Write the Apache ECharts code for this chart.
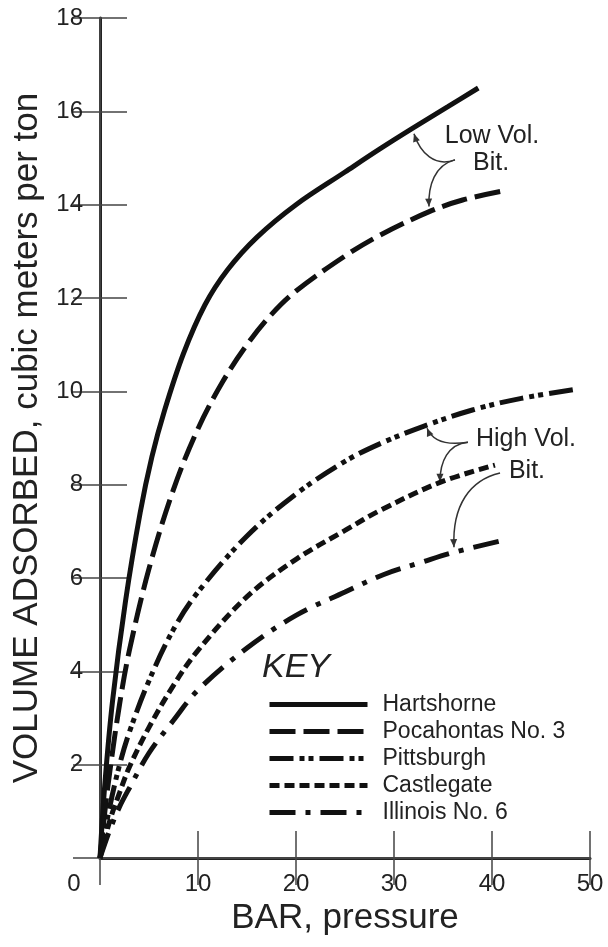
<!DOCTYPE html>
<html><head><meta charset="utf-8">
<script src="https://cdn.jsdelivr.net/npm/echarts@6/dist/echarts.min.js"></script>
<style>html,body{margin:0;padding:0;background:#fff}#c{width:608px;height:947px}</style>
</head><body><div id="c"></div>
<script>
// ---- data (pressure in bar, volume in m3/ton) ----
const seriesNames = ['Hartshorne','Pocahontas No. 3','Pittsburgh','Castlegate','Illinois No. 6'];
const hartshorne = [[0,0],[0.5,1.6],[1.3,3.4],[2.6,5.5],[4.1,7.4],[5.3,8.6],[6.6,9.6],[8.5,10.8],[10.7,11.85],[13,12.6],[16,13.3],[20,14.0],[25,14.7],[28.6,15.2],[32,15.65],[35.5,16.1],[38.6,16.5]];
const pocahontas = [[0,0],[0.5,1.0],[1,1.85],[2,3.3],[3,4.45],[5,6.2],[7.5,7.9],[10,9.2],[12.5,10.2],[15,11.0],[17.5,11.65],[20,12.15],[25,12.9],[28.6,13.35],[33.6,13.85],[37,14.1],[41.3,14.3]];
const pittsburgh = [[0,0],[1,1.1],[2,2.0],[3,2.7],[5,3.8],[7.5,4.9],[10,5.7],[15,6.9],[20,7.8],[25,8.5],[28.6,8.88],[33,9.25],[38,9.6],[43,9.85],[48.8,10.05]];
const castlegate = [[0,0],[1,0.8],[2,1.4],[3,1.95],[5,2.8],[7.5,3.7],[10,4.45],[15,5.6],[20,6.4],[25,7.02],[28.6,7.45],[34.7,8.05],[40.3,8.42]];
const illinois = [[0,0],[1,0.6],[2,1.1],[3,1.5],[5,2.25],[7.5,2.95],[10,3.6],[15,4.5],[20,5.2],[25,5.7],[28.9,6.07],[33,6.35],[36.1,6.55],[41.2,6.81]];
const xTicks = [0,10,20,30,40,50];
const yTicks = [2,4,6,8,10,12,14,16,18];
const xName = 'BAR, pressure';
const yName = 'VOLUME ADSORBED, cubic meters per ton';
// annotation anchors in data coordinates
const annoTexts = [
  {t:'Low Vol.', p:[40.0,15.47]}, {t:'Bit.', p:[39.9,14.89]},
  {t:'High Vol.', p:[43.47,8.98]}, {t:'Bit.', p:[43.57,8.29]}
];
const annoArrows = [
  [[36.22,14.96],[34.18,14.8],[32.7,15.1],[32.04,15.52]],
  [[36.22,14.96],[34.18,14.85],[33.47,14.42],[33.57,13.96]],
  [[37.55,8.91],[35.2,8.83],[33.88,8.96],[33.37,9.21]],
  [[37.55,8.91],[35.51,8.87],[34.69,8.49],[34.69,8.06]],
  [[40.82,8.25],[37.76,8.10],[35.92,7.56],[36.12,6.66]]
];

const FONT = 'Liberation Sans, Arial, sans-serif';
const INK = '#111';
const dashes = ['solid',[26,8],[24,6,5,4,5,6],[10,5],[26,10,5,10]];
const datasets = [hartshorne,pocahontas,pittsburgh,castlegate,illinois];

const chart = echarts.init(document.getElementById('c'), null, {renderer:'canvas'});
const axisCommon = {
  type:'value', splitLine:{show:false},
  axisTick:{show:true, inside:true, length:27, lineStyle:{color:'#444', width:1.5}}
};
const option = {
  animation:false,
  backgroundColor:'#fff',
  grid:{left:100,right:18,top:18,bottom:89,containLabel:false},
  legend:{
    orient:'vertical', left:262, top:688, itemWidth:98, itemHeight:14, itemGap:4,
    data:seriesNames, selectedMode:false,
    itemStyle:{opacity:0},
    lineStyle:{width:5},
    textStyle:{fontFamily:FONT,fontSize:23,color:'#222',lineHeight:23,padding:[0,0,0,10]}
  },
  xAxis:[
    Object.assign({}, axisCommon, {min:0,max:50,interval:10,position:'bottom',
      name:xName, nameLocation:'middle', nameGap:43,
      nameTextStyle:{fontFamily:FONT,fontSize:35,color:'#222'},
      axisLine:{show:true,lineStyle:{color:'#222',width:3}},
      axisLabel:{show:true,margin:14,fontFamily:FONT,fontSize:24,color:'#222',showMinLabel:true,showMaxLabel:true,
        formatter:function(v){return v===0?'{z|0}':String(v);},
        rich:{z:{fontFamily:FONT,fontSize:24,color:'#222',padding:[0,52,0,0]}}}
    }),
    Object.assign({}, axisCommon, {min:0,max:50,interval:10,position:'top',
      axisLine:{show:true,lineStyle:{color:'#444',width:1.8}}, axisLabel:{show:false}})
  ],
  yAxis:[
    Object.assign({}, axisCommon, {min:0,max:18,interval:2,position:'left',
      name:yName, nameLocation:'middle', nameGap:55,
      nameTextStyle:{fontFamily:FONT,fontSize:35,color:'#222'},
      axisLine:{show:true,lineStyle:{color:'#222',width:3}},
      axisLabel:{show:true,margin:17,fontFamily:FONT,fontSize:24,color:'#222',
        formatter:function(v){return v===0?'':String(v);}}
    }),
    Object.assign({}, axisCommon, {min:0,max:18,interval:2,position:'right',
      axisLine:{show:true,lineStyle:{color:'#444',width:1.8}}, axisLabel:{show:false}})
  ],
  series: seriesNames.map(function(n,i){
    return {name:n,type:'line',xAxisIndex:0,yAxisIndex:0,data:datasets[i],
      symbol:'none',smooth:0.35,
      lineStyle:{color:INK,width:5,type:dashes[i],cap:'butt'},
      itemStyle:{color:INK}};
  })
};
chart.setOption(option);

function px(p){return chart.convertToPixel({xAxisIndex:0,yAxisIndex:0},p);}
const g = [];
g.push({type:'text',left:262,top:651,style:{text:'KEY',font:'italic 34px '+FONT,fill:'#222'}});
annoTexts.forEach(function(a){
  const q = px(a.p);
  g.push({type:'text',x:q[0],y:q[1],style:{text:a.t,fontFamily:FONT,fontSize:25,fill:'#222',align:'center',verticalAlign:'middle'}});
});
annoArrows.forEach(function(c){
  const a=px(c[0]),b=px(c[1]),d=px(c[2]),e=px(c[3]);
  g.push({type:'bezierCurve',shape:{x1:a[0],y1:a[1],cpx1:b[0],cpy1:b[1],cpx2:d[0],cpy2:d[1],x2:e[0],y2:e[1]},
    style:{stroke:'#333',lineWidth:1.5,fill:null}});
  const dx=e[0]-d[0],dy=e[1]-d[1],L=Math.sqrt(dx*dx+dy*dy)||1;
  const ux=dx/L,uy=dy/L,len=8,w=3.5;
  const bx=e[0]-ux*len,by=e[1]-uy*len;
  g.push({type:'polygon',shape:{points:[[e[0],e[1]],[bx-uy*w,by+ux*w],[bx+uy*w,by-ux*w]]},style:{fill:'#333'}});
});
chart.setOption({graphic:g});
</script></body></html>
